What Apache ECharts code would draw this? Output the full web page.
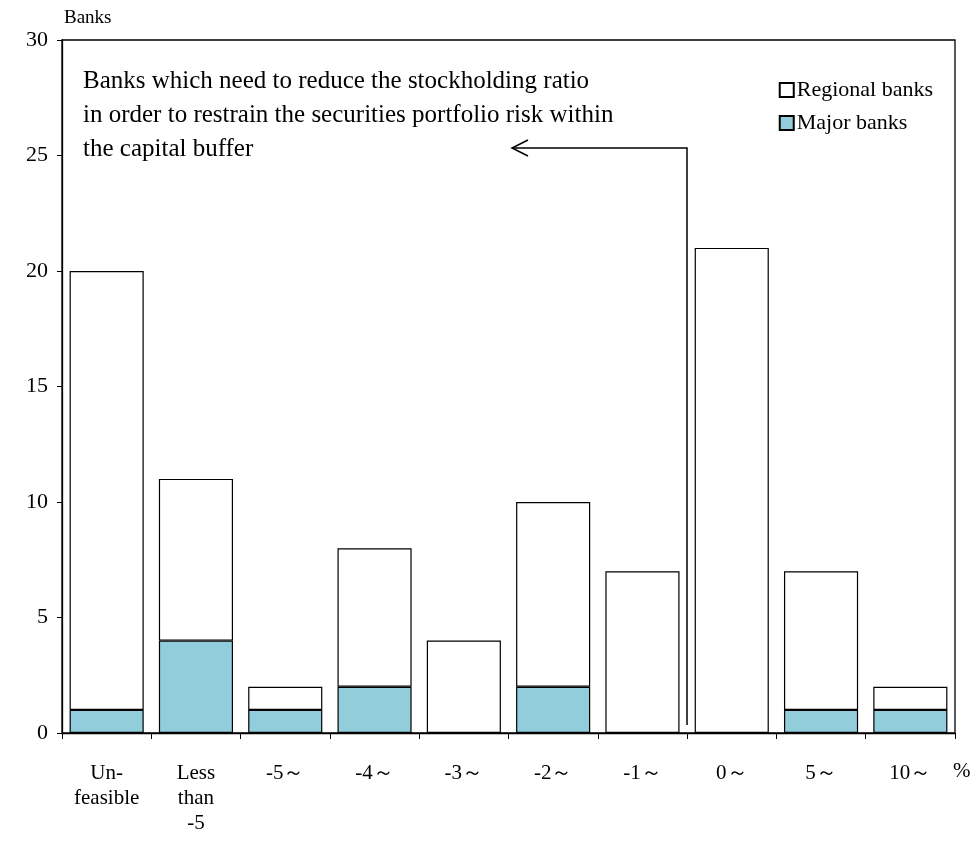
<!DOCTYPE html>
<html>
<head>
<meta charset="utf-8">
<script src="https://cdn.jsdelivr.net/npm/echarts@6/dist/echarts.min.js"></script>
<style>html,body{margin:0;padding:0;background:#fff}#chart{width:978px;height:845px}</style>
</head>
<body>
<div id="chart"></div>
<script>
var categories=['Un-\nfeasible','Less\nthan\n-5','-5～','-4～','-3～','-2～','-1～','0～','5～','10～'];
var majorBanks=[1,4,1,2,0,2,0,0,1,1];
var regionalBanks=[19,7,1,6,4,8,7,21,6,1];
var yTicks=[0,5,10,15,20,25,30];

var myChart=echarts.init(document.getElementById('chart'));
var serif='Liberation Serif, Times New Roman, serif';
var option={
	animation:false,
	textStyle:{fontFamily:serif,color:'#000'},
	grid:{left:62,right:23,top:40,bottom:112},
	legend:{
		orient:'vertical',
		right:40,top:74,
		itemWidth:14,itemHeight:14,itemGap:11,
		icon:'rect',
		textStyle:{fontFamily:serif,fontSize:22,color:'#000',padding:[0,0,0,-2]},
		data:['Regional banks','Major banks']
	},
	xAxis:{
		type:'category',
		data:categories,
		axisLine:{lineStyle:{color:'#000',width:1.3}},
		axisTick:{show:true,length:6,lineStyle:{color:'#000'}},
		axisLabel:{fontSize:21,color:'#000',margin:28,lineHeight:25,fontFamily:serif}
	},
	yAxis:{
		type:'value',min:0,max:30,interval:5,
		name:'Banks',nameLocation:'end',nameGap:12,
		nameTextStyle:{fontSize:19,color:'#000',align:'left',padding:[0,0,0,2]},
		axisLine:{show:true,lineStyle:{color:'#000',width:1.3}},
		axisTick:{show:true,length:5,lineStyle:{color:'#000'}},
		splitLine:{show:false},
		axisLabel:{fontSize:22,color:'#000',margin:14,fontFamily:serif,
			formatter:function(v){return yTicks.indexOf(v)>=0?String(v):'';}}
	},
	series:[
		{name:'Major banks',type:'bar',stack:'a',barCategoryGap:'17%',
			itemStyle:{color:'#92cddc',borderColor:'#000',borderWidth:1.2},
			data:majorBanks},
		{name:'Regional banks',type:'bar',stack:'a',
			itemStyle:{color:'#fff',borderColor:'#000',borderWidth:1.2},
			data:regionalBanks}
	],
	graphic:[
		{type:'rect',shape:{x:62,y:40,width:893,height:693},style:{fill:'none',stroke:'#000',lineWidth:1.3},silent:true},
		{type:'text',left:953,top:761,style:{text:'%',font:'21px '+serif,fill:'#000'}},
		{type:'text',left:83,top:64,style:{text:'Banks which need to reduce the stockholding ratio\nin order to restrain the securities portfolio risk within\nthe capital buffer',
			font:'25px '+serif,lineHeight:34,fill:'#000'}},
		{type:'polyline',shape:{points:[[687,725],[687,148],[512,148]]},style:{stroke:'#000',lineWidth:1.5,fill:'none'}},
		{type:'polyline',shape:{points:[[528,140],[512,148],[528,156]]},style:{stroke:'#000',lineWidth:1.5,fill:'none'}}
	]
};
myChart.setOption(option);
</script>
</body>
</html>
